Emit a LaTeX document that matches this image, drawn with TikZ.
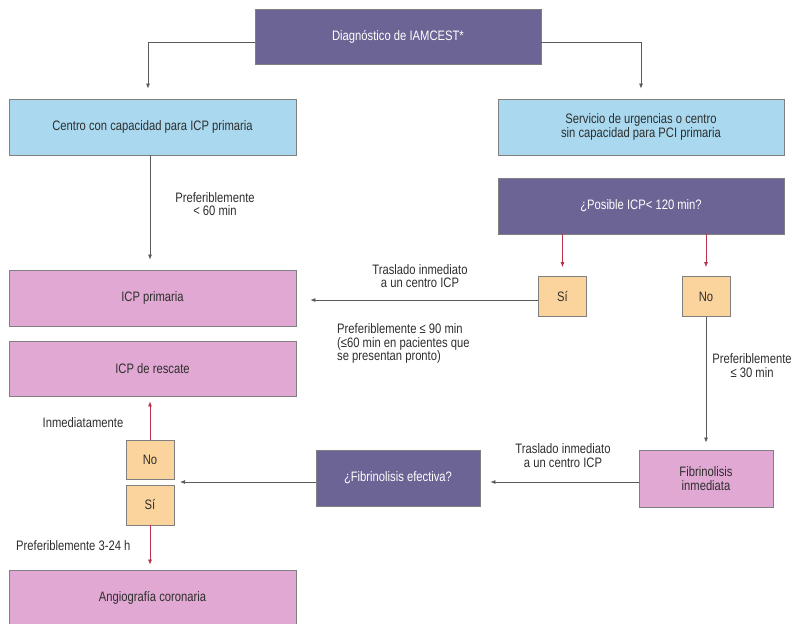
\documentclass[tikz,border=0pt]{standalone}
\usepackage{fontspec}
\setmainfont{Liberation Sans}[FakeStretch=0.82]
\usetikzlibrary{arrows.meta,shadows}
\definecolor{boxpurple}{HTML}{6B6494}
\definecolor{boxblue}{HTML}{A9D8EF}
\definecolor{boxpink}{HTML}{E0A8D2}
\definecolor{boxorange}{HTML}{FBD39C}
\definecolor{edgegray}{HTML}{808080}
\definecolor{linegray}{HTML}{5A5A5A}
\definecolor{linered}{HTML}{B8324A}
\definecolor{txt}{HTML}{2E2E2E}
\tikzset{
  x=1pt, y=-1pt,
  base/.style={draw=edgegray, line width=0.8pt, align=center, inner sep=2pt,
    font=\fontsize{13.7}{13.5}\selectfont, text=txt,
    drop shadow={shadow xshift=0.8pt, shadow yshift=-0.8pt, opacity=0.25}},
  purplebox/.style={base, fill=boxpurple, text=white},
  bluebox/.style={base, fill=boxblue},
  pinkbox/.style={base, fill=boxpink},
  answer/.style={base, fill=boxorange, minimum width=48pt, minimum height=40pt},
  flow/.style={draw=linegray, line width=0.7pt, -{Latex[length=5pt,width=4pt]}},
  redflow/.style={draw=linered, line width=0.7pt, -{Latex[length=5pt,width=4pt]}},
  note/.style={align=center, inner sep=0pt, text=txt, font=\fontsize{13.7}{13.5}\selectfont},
}
\begin{document}
\begin{tikzpicture}
\useasboundingbox (0,0) rectangle (794,623);

% boxes
\node[purplebox, minimum width=286pt, minimum height=55pt] (diag) at (398,36.5) {Diagnóstico de IAMCEST*};
\node[bluebox, minimum width=287pt, minimum height=56pt] (cap) at (152.5,127) {Centro con capacidad para ICP primaria};
\node[bluebox, minimum width=286pt, minimum height=56pt] (sin) at (641,127) {Servicio de urgencias o centro\\sin capacidad para PCI primaria};
\node[purplebox, minimum width=286pt, minimum height=56pt] (pos) at (641,206) {¿Posible ICP< 120 min?};
\node[pinkbox, minimum width=287pt, minimum height=56pt] (icpp) at (152.5,298) {ICP primaria};
\node[pinkbox, minimum width=287pt, minimum height=55pt] (resc) at (152.5,368.5) {ICP de rescate};
\node[answer] (si1) at (562.5,296.5) {Sí};
\node[answer] (no1) at (706,296.5) {No};
\node[pinkbox, minimum width=134pt, minimum height=57pt] (fibinm) at (706,478.5) {Fibrinolisis\\inmediata};
\node[purplebox, minimum width=164pt, minimum height=56pt] (fibef) at (398,478) {¿Fibrinolisis efectiva?};
\node[answer, minimum height=39pt] (no2) at (150,459.5) {No};
\node[answer] (si2) at (150,505) {Sí};
\node[pinkbox, minimum width=287pt, minimum height=56pt] (angio) at (152.5,598) {Angiografía coronaria};
\coordinate (nsgap) at (174,482);

% connectors
\draw[flow, shorten >=10pt] ([yshift=-5.5pt]diag.west) -| ([xshift=-4.5pt]cap.north);
\draw[flow, shorten >=10pt] ([yshift=-5.5pt]diag.east) -| (sin.north);
\draw[flow, shorten >=10pt] ([xshift=-2.5pt]cap.south) -- ([xshift=-2.5pt]icpp.north);
\draw[redflow, shorten >=9pt] (si1.north |- pos.south) -- (si1.north);
\draw[redflow, shorten >=9pt] (no1.north |- pos.south) -- (no1.north);
\draw[flow, shorten >=14pt] ([yshift=-3.5pt]si1.west) -- ([yshift=-3.5pt]si1.west -| icpp.east);
\draw[flow, shorten >=7pt] (no1.south) -- (no1.south |- fibinm.north);
\draw[flow, shorten >=10pt] ([yshift=-3.5pt]fibinm.west) -- ([yshift=-3.5pt]fibinm.west -| fibef.east);
\draw[flow, shorten >=6pt] (nsgap -| fibef.west) -- (nsgap);
\draw[redflow, shorten >=5pt] (no2.north) -- (no2.north |- resc.south);
\draw[redflow, shorten >=5pt] (si2.south) -- (si2.south |- angio.north);

% labels
\node[note] (l60) at (215,204) {Preferiblemente\\< 60 min};
\node[note] (ltr1) at (420,276) {Traslado inmediato\\a un centro ICP};
\node[note, align=left, anchor=west] (l90) at (337,343.5) {Preferiblemente ≤ 90 min\\(≤60 min en pacientes que\\se presentan pronto)};
\node[note] (l30) at (752,365.5) {Preferiblemente\\≤ 30 min};
\node[note] (ltr2) at (563,455.5) {Traslado inmediato\\a un centro ICP};
\node[note] (linm) at (83,423) {Inmediatamente};
\node[note, anchor=west] (l324) at (16,546) {Preferiblemente 3-24 h};
\end{tikzpicture}
\end{document}
